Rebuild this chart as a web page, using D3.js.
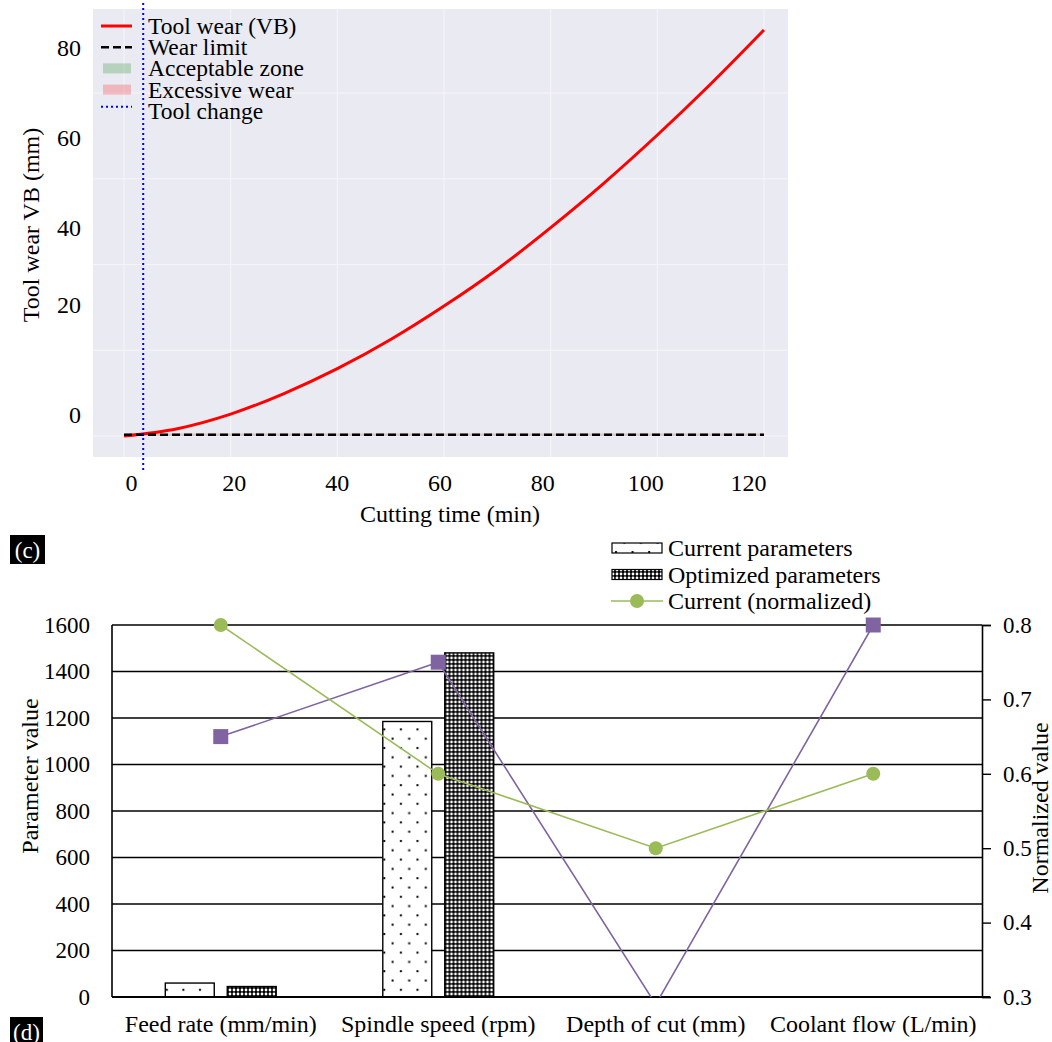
<!DOCTYPE html>
<html>
<head>
<meta charset="utf-8">
<script src="https://cdn.jsdelivr.net/npm/d3@7/dist/d3.min.js"></script>
<style>
  html, body { margin: 0; padding: 0; background: #fff; }
  svg { display: block; font-family: "Liberation Serif", "Times New Roman", serif; }
</style>
</head>
<body>
<div id="chart"></div>
<script>
// ---- data: panel (c) tool wear ----
const wearTime = [0, 10, 20, 30, 40, 50, 60, 70, 80, 90, 100, 110, 120];
const wearVB = [0, 1.7, 5.1, 9.9, 15.7, 22.5, 30.3, 38.9, 48.6, 59.0, 70.2, 82.1, 94.7];
const wearLimit = 0.3;
const toolChangeTime = 3.6;
const timeTicks = [0, 20, 40, 60, 80, 100, 120];
const wearTicks = [0, 20, 40, 60, 80];
const wearLegend = ['Tool wear (VB)', 'Wear limit', 'Acceptable zone', 'Excessive wear', 'Tool change'];

// ---- data: panel (d) parameters ----
const categories = ['Feed rate (mm/min)', 'Spindle speed (rpm)', 'Depth of cut (mm)', 'Coolant flow (L/min)'];
const currentParams = [60, 1185, 1.5, 1.2];
const optimizedParams = [45, 1480, 1.2, 1.0];
const currentNorm = [0.8, 0.6, 0.5, 0.6];
const optimizedNorm = [0.65, 0.75, 0.29, 0.8];
const paramTicks = [0, 200, 400, 600, 800, 1000, 1200, 1400, 1600];
const normTicks = [0.3, 0.4, 0.5, 0.6, 0.7, 0.8];
const paramLegend = ['Current parameters', 'Optimized parameters', 'Current (normalized)'];

const W = 1052, H = 1042;
const SERIF = '"Liberation Serif", "Times New Roman", serif';

const svg = d3.select('#chart').append('svg')
  .attr('width', W)
  .attr('height', H);

const defs = svg.append('defs');

// helper: restyle axis tick text in the serif face
function serifTicks(axisG, size) {
  axisG.attr('font-family', null).attr('font-size', null);
  axisG.selectAll('text')
    .style('font-family', SERIF)
    .style('font-size', size + 'px')
    .attr('fill', '#000');
}

/* ================= panel (c) ================= */
const areaC = { left: 93, right: 788, top: 9, bottom: 457 };

const xT = d3.scaleLinear().domain([0, 120]).range([124, 764]);
const yT = d3.scaleLinear().domain([0, 80]).range([436, 93]);
// tick labels of the source sit slightly off the grid, so they get their own scales
const xLab = d3.scaleLinear().domain([0, 120]).range([131, 748]);
const yLab = d3.scaleLinear().domain(wearTicks).range([415, 305, 228, 138, 48]);

const gT = svg.append('g').attr('class', 'panel-c');

gT.append('rect')
  .attr('x', areaC.left)
  .attr('y', areaC.top)
  .attr('width', areaC.right - areaC.left)
  .attr('height', areaC.bottom - areaC.top)
  .attr('fill', '#eaeaf2');

// white grid
gT.append('g').selectAll('line')
  .data(timeTicks)
  .enter().append('line')
  .attr('x1', d => xT(d)).attr('x2', d => xT(d))
  .attr('y1', areaC.top).attr('y2', areaC.bottom)
  .style('stroke', '#f5f5f9').style('stroke-width', 1);
gT.append('g').selectAll('line')
  .data(wearTicks)
  .enter().append('line')
  .attr('x1', areaC.left).attr('x2', areaC.right)
  .attr('y1', d => yT(d)).attr('y2', d => yT(d))
  .style('stroke', '#f5f5f9').style('stroke-width', 1);

// zones around the wear limit
gT.append('rect')
  .attr('x', xT(0)).attr('width', xT(120) - xT(0))
  .attr('y', yT(wearLimit)).attr('height', yT(0) - yT(wearLimit))
  .attr('fill', 'green').attr('opacity', 0.2);
gT.append('rect')
  .attr('x', xT(0)).attr('width', xT(120) - xT(0))
  .attr('y', yT(wearLimit * 2)).attr('height', yT(wearLimit) - yT(wearLimit * 2))
  .attr('fill', 'red').attr('opacity', 0.2);

// wear curve
const wearLine = d3.line()
  .x((d, i) => xT(wearTime[i]))
  .y(d => yT(d))
  .curve(d3.curveMonotoneX);
gT.append('path')
  .datum(wearVB)
  .attr('d', wearLine)
  .attr('fill', 'none')
  .style('stroke', '#ff0000')
  .style('stroke-width', 3);

// wear limit
gT.append('line')
  .attr('x1', xT(0)).attr('x2', xT(120))
  .attr('y1', yT(wearLimit)).attr('y2', yT(wearLimit))
  .style('stroke', '#000')
  .style('stroke-width', 2.5)
  .style('stroke-dasharray', '8 4');

// tool change (runs a little past the axes like the source)
gT.append('line')
  .attr('x1', xT(toolChangeTime)).attr('x2', xT(toolChangeTime))
  .attr('y1', 3).attr('y2', 470)
  .style('stroke', '#0000ff')
  .style('stroke-width', 2)
  .style('stroke-dasharray', '2 3');

// axes (labels only)
const xAxisT = gT.append('g')
  .attr('transform', 'translate(0,' + (areaC.bottom + 17) + ')')
  .call(d3.axisBottom(xLab).tickValues(timeTicks).tickSize(0));
xAxisT.select('.domain').remove();
xAxisT.selectAll('text').attr('y', 0).attr('dy', '0.71em');
serifTicks(xAxisT, 24);

const yAxisT = gT.append('g')
  .attr('transform', 'translate(81,0)')
  .call(d3.axisLeft(yLab).tickValues(wearTicks).tickSize(0));
yAxisT.select('.domain').remove();
yAxisT.selectAll('text').attr('x', 0);
serifTicks(yAxisT, 24);

gT.append('text')
  .attr('x', 450).attr('y', 514)
  .attr('text-anchor', 'middle').attr('dominant-baseline', 'central')
  .style('font-size', '24px')
  .text('Cutting time (min)');
gT.append('text')
  .attr('transform', 'translate(31,225) rotate(-90)')
  .attr('text-anchor', 'middle').attr('dominant-baseline', 'central')
  .style('font-size', '24px')
  .text('Tool wear VB (mm)');

// legend
const legT = gT.append('g').attr('transform', 'translate(101,26)');
const rowT = 21.2;
legT.selectAll('text')
  .data(wearLegend)
  .enter().append('text')
  .attr('x', 47)
  .attr('y', (d, i) => i * rowT)
  .attr('dominant-baseline', 'central')
  .style('font-size', '23.5px')
  .text(d => d);
legT.append('line').attr('x1', 0).attr('x2', 31).attr('y1', 0).attr('y2', 0)
  .style('stroke', '#ff0000').style('stroke-width', 3);
legT.append('line').attr('x1', 0).attr('x2', 31).attr('y1', rowT).attr('y2', rowT)
  .style('stroke', '#000').style('stroke-width', 2.5).style('stroke-dasharray', '8 4');
legT.append('rect').attr('x', 2).attr('width', 28).attr('y', 2 * rowT - 5).attr('height', 10)
  .attr('fill', 'green').attr('opacity', 0.22);
legT.append('rect').attr('x', 2).attr('width', 28).attr('y', 3 * rowT - 5).attr('height', 10)
  .attr('fill', 'red').attr('opacity', 0.22);
legT.append('line').attr('x1', 0).attr('x2', 31).attr('y1', 4 * rowT - 4).attr('y2', 4 * rowT - 4)
  .style('stroke', '#0000ff').style('stroke-width', 2).style('stroke-dasharray', '2 3');

/* panel tags */
function panelTag(x, y, w, h, label) {
  svg.append('rect').attr('x', x).attr('y', y).attr('width', w).attr('height', h).attr('fill', '#000');
  svg.append('text')
    .attr('x', x + w / 2).attr('y', y + h / 2 + 1)
    .attr('text-anchor', 'middle').attr('dominant-baseline', 'central')
    .attr('fill', '#fff').style('font-size', '23px')
    .text(label);
}
panelTag(10, 535, 35, 29, '(c)');
panelTag(10, 1017, 33, 29, '(d)');

/* ================= panel (d) ================= */
const areaD = { left: 112, right: 982, top: 625, bottom: 997 };

const xB = d3.scaleBand().domain(categories).range([areaD.left, areaD.right]);
const xInner = d3.scaleBand().domain(['current', 'optimized'])
  .range([0, xB.bandwidth()])
  .paddingInner(0.21)
  .paddingOuter(0.86);
const yB = d3.scaleLinear().domain([0, 1600]).range([areaD.bottom, areaD.top]);
const yR = d3.scaleLinear().domain([0.3, 0.8]).range([areaD.bottom, areaD.top]);

// fill patterns
const sparse = defs.append('pattern')
  .attr('id', 'dots-sparse').attr('patternUnits', 'userSpaceOnUse')
  .attr('width', 16.6).attr('height', 18.6);
sparse.append('rect').attr('width', 16.6).attr('height', 18.6).attr('fill', '#fff');
sparse.append('rect').attr('x', 4).attr('y', 3).attr('width', 2).attr('height', 2).attr('fill', '#000');
sparse.append('rect').attr('x', 12.3).attr('y', 12.3).attr('width', 2).attr('height', 2).attr('fill', '#000');

const dense = defs.append('pattern')
  .attr('id', 'dots-dense').attr('patternUnits', 'userSpaceOnUse')
  .attr('width', 4).attr('height', 4);
dense.append('rect').attr('width', 4).attr('height', 4).attr('fill', '#000');
dense.append('circle').attr('cx', 2).attr('cy', 2).attr('r', 1.4).attr('fill', '#fff');

const gB = svg.append('g').attr('class', 'panel-d');

// black horizontal grid
gB.append('g').selectAll('line')
  .data(paramTicks.filter(d => d > 0))
  .enter().append('line')
  .attr('x1', areaD.left).attr('x2', areaD.right)
  .attr('y1', d => yB(d)).attr('y2', d => yB(d))
  .style('stroke', '#000').style('stroke-width', 1.6);

// bars
const barData = categories.map((c, i) => ({ cat: c, current: currentParams[i], optimized: optimizedParams[i] }));
const groups = gB.selectAll('.gbar')
  .data(barData)
  .enter().append('g')
  .attr('class', 'gbar')
  .attr('transform', d => 'translate(' + xB(d.cat) + ',0)');
groups.selectAll('rect')
  .data(d => [['current', d.current], ['optimized', d.optimized]])
  .enter().append('rect')
  .attr('x', d => xInner(d[0]))
  .attr('width', xInner.bandwidth())
  .attr('y', d => yB(d[1]))
  .attr('height', d => yB(0) - yB(d[1]))
  .attr('fill', d => d[0] === 'current' ? 'url(#dots-sparse)' : 'url(#dots-dense)')
  .style('stroke', '#000')
  .style('stroke-width', 1.4);

// axes lines
gB.append('line')
  .attr('x1', areaD.left).attr('x2', areaD.left)
  .attr('y1', areaD.top).attr('y2', areaD.bottom)
  .style('stroke', '#000').style('stroke-width', 1.6);
gB.append('line')
  .attr('x1', areaD.left).attr('x2', areaD.right + 8)
  .attr('y1', areaD.bottom).attr('y2', areaD.bottom)
  .style('stroke', '#000').style('stroke-width', 1.8);

const yAxisL = gB.append('g')
  .attr('transform', 'translate(' + (areaD.left - 22) + ',0)')
  .call(d3.axisLeft(yB).tickValues(paramTicks).tickSize(0).tickFormat(d3.format('d')));
yAxisL.select('.domain').remove();
yAxisL.selectAll('text').attr('x', 0);
serifTicks(yAxisL, 23);

const yAxisR = gB.append('g')
  .attr('transform', 'translate(' + areaD.right + ',0)')
  .call(d3.axisRight(yR).tickValues(normTicks).tickSize(9).tickPadding(12).tickFormat(d3.format('.1f')));
yAxisR.select('.domain').attr('stroke-width', 1.6);
yAxisR.selectAll('line').attr('stroke-width', 1.4);
serifTicks(yAxisR, 23);

const xAxisB = gB.append('g')
  .attr('transform', 'translate(0,' + (areaD.bottom + 18) + ')')
  .call(d3.axisBottom(xB).tickSize(0));
xAxisB.select('.domain').remove();
xAxisB.selectAll('text').attr('y', 0).attr('dy', '0.71em');
serifTicks(xAxisB, 24);

gB.append('text')
  .attr('transform', 'translate(30,776) rotate(-90)')
  .attr('text-anchor', 'middle').attr('dominant-baseline', 'central')
  .style('font-size', '24px')
  .text('Parameter value');
gB.append('text')
  .attr('transform', 'translate(1040,808) rotate(-90)')
  .attr('text-anchor', 'middle').attr('dominant-baseline', 'central')
  .style('font-size', '24px')
  .text('Normalized value');

// normalized lines (clipped to the plot, markers only where in range)
defs.append('clipPath').attr('id', 'clip-d')
  .append('rect')
  .attr('x', areaD.left).attr('y', areaD.top)
  .attr('width', areaD.right - areaD.left).attr('height', areaD.bottom - areaD.top);

const normLine = d3.line()
  .x((d, i) => xB(categories[i]) + xB.bandwidth() / 2)
  .y(d => yR(d));

const PURPLE = '#8064a2', GREEN = '#9bbb59';

gB.append('path')
  .datum(optimizedNorm)
  .attr('d', normLine)
  .attr('clip-path', 'url(#clip-d)')
  .attr('fill', 'none')
  .style('stroke', PURPLE).style('stroke-width', 1.6);
gB.append('path')
  .datum(currentNorm)
  .attr('d', normLine)
  .attr('clip-path', 'url(#clip-d)')
  .attr('fill', 'none')
  .style('stroke', GREEN).style('stroke-width', 1.6);

const inRange = v => v >= 0.3 && v <= 0.8;
gB.append('g').selectAll('rect')
  .data(optimizedNorm.map((v, i) => [categories[i], v]).filter(d => inRange(d[1])))
  .enter().append('rect')
  .attr('x', d => xB(d[0]) + xB.bandwidth() / 2 - 7.5)
  .attr('y', d => yR(d[1]) - 7.5)
  .attr('width', 15).attr('height', 15)
  .attr('fill', PURPLE);
gB.append('g').selectAll('circle')
  .data(currentNorm.map((v, i) => [categories[i], v]).filter(d => inRange(d[1])))
  .enter().append('circle')
  .attr('cx', d => xB(d[0]) + xB.bandwidth() / 2)
  .attr('cy', d => yR(d[1]))
  .attr('r', 7)
  .attr('fill', GREEN);

// legend above the plot
const legB = svg.append('g').attr('transform', 'translate(611,548)');
const rowB = 26.5;
legB.selectAll('text')
  .data(paramLegend)
  .enter().append('text')
  .attr('x', 57)
  .attr('y', (d, i) => i * rowB)
  .attr('dominant-baseline', 'central')
  .style('font-size', '24px')
  .text(d => d);
legB.append('rect').attr('x', 1).attr('y', -5).attr('width', 50).attr('height', 10)
  .attr('fill', 'url(#dots-sparse)').style('stroke', '#000').style('stroke-width', 1.2);
legB.append('rect').attr('x', 1).attr('y', rowB - 5).attr('width', 50).attr('height', 10)
  .attr('fill', 'url(#dots-dense)').style('stroke', '#000').style('stroke-width', 1.2);
legB.append('line').attr('x1', 0).attr('x2', 52).attr('y1', 2 * rowB).attr('y2', 2 * rowB)
  .style('stroke', GREEN).style('stroke-width', 1.6);
legB.append('circle').attr('cx', 26).attr('cy', 2 * rowB).attr('r', 7).attr('fill', GREEN);
</script>
</body>
</html>
